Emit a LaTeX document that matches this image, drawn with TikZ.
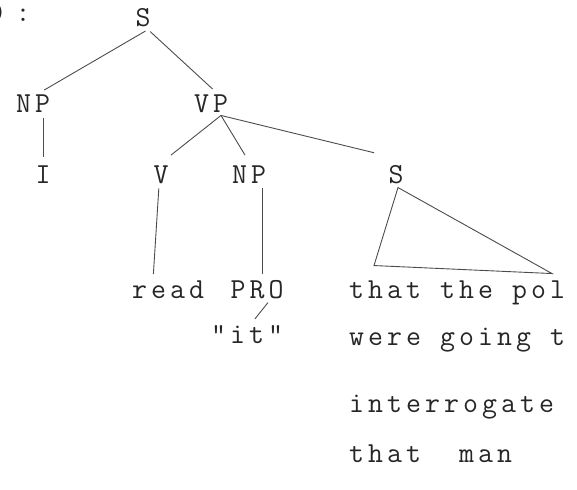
\documentclass[tikz,border=0pt]{standalone}
\usepackage{fontspec}
\usepackage{tikz}
\usetikzlibrary{calc}
\newfontfamily\typer[LetterSpace=14]{Latin Modern Mono}

\begin{document}
\begin{tikzpicture}[x=1pt, y=-1pt,
    typed/.style={font=\typer\fontsize{29}{29}\selectfont, text=black!85, inner sep=2pt, anchor=base},
    line/.style={line width=0.9pt, draw=black!70},
    branch/.style={line, shorten <=3pt, shorten >=6pt}]
    \useasboundingbox (0,0) rectangle (577,489);
    % category labels
    \node[typed] (paren) at (-1,22) {)};
    \node[typed] (colon) at (23,22) {:};
    \node[typed] (S) at (143,27) {S};
    \node[typed] (NP) at (33,113) {NP};
    \node[typed] (VP) at (211,113) {VP};
    \node[typed] (I) at (43,183) {I};
    \node[typed] (V) at (161,183) {V};
    \node[typed] (NPb) at (249,183) {NP};
    \node[typed] (Sb) at (396,183) {S};
    % words
    \node[typed] (read) at (168,298) {read};
    \node[typed] (PRO) at (257,298) {PRO};
    \node[typed] (it) at (247,343) {"it"};
    \node[typed, anchor=base west] (l1) at (347,298) {that the pol};
    \node[typed, anchor=base west] (l2) at (347,345) {were going t};
    \node[typed, anchor=base west] (l3) at (347,412) {interrogate};
    \node[typed, anchor=base west] (l4) at (347,462) {that\ \ man};
    % branches
    \coordinate (vpfoot) at ([xshift=10pt]VP.south);
    \coordinate (tipL) at ([xshift=-22pt, yshift=-80pt]Sb.south);
    \coordinate (tipR) at ([xshift=156pt, yshift=-88pt]Sb.south);
    \draw[branch] ([xshift=5pt]S.south) -- ([xshift=6pt]NP.north);
    \draw[branch] ([xshift=5pt]S.south) -- ([xshift=6pt]VP.north);
    \draw[branch] (NP.south -| I.north) -- (I.north);
    \draw[line] (vpfoot) -- ([xshift=10pt, yshift=8pt]V.north);
    \draw[line] (vpfoot) -- ([xshift=-4pt, yshift=8pt]NPb.north);
    \draw[line] (vpfoot) -- ([xshift=-22pt, yshift=10pt]Sb.north);
    \draw[branch] ([xshift=-2pt]V.south) -- ([xshift=-15pt, yshift=-2pt]read.north);
    \draw[branch] ([xshift=13pt]NPb.south) -- ([xshift=5pt, yshift=-2pt]PRO.north);
    \draw[line] ([xshift=11pt, yshift=-2pt]PRO.south) -- ([xshift=8pt, yshift=4pt]it.north);
    \draw[line] ([xshift=2pt, yshift=-2pt]Sb.south) -- (tipL) -- (tipR) -- cycle;
\end{tikzpicture}
\end{document}
